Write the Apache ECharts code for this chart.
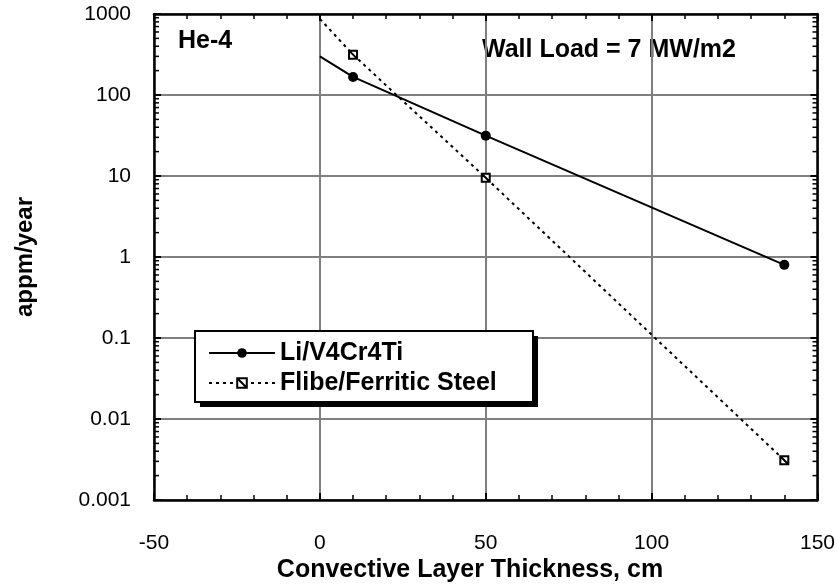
<!DOCTYPE html>
<html>
<head>
<meta charset="utf-8">
<script src="https://cdn.jsdelivr.net/npm/echarts@6/dist/echarts.min.js"></script>
<style>
html,body{margin:0;padding:0;background:#fff;}
#c{width:838px;height:585px;}
</style>
</head>
<body>
<div id="c"></div>
<script>
// ---- data ----
const xTicks = [-50, 0, 50, 100, 150];
const yTickLabels = ['0.001', '0.01', '0.1', '1', '10', '100', '1000'];
const yTickValues = [0.001, 0.01, 0.1, 1, 10, 100, 1000];
const minorMultipliers = [2, 3, 4, 5, 6, 7, 8, 9];

const liName = 'Li/V4Cr4Ti';
const liX = [0, 10, 50, 140];
const liY = [300, 167, 31.5, 0.8];
const liMarker = [false, true, true, true];

const fbName = 'Flibe/Ferritic Steel';
const fbX = [0, 10, 50, 140];
const fbY = [870, 315, 9.5, 0.0031];
const fbMarker = [false, true, true, true];

const noteLeft = 'He-4';
const noteRight = 'Wall Load = 7 MW/m2';
const xTitle = 'Convective Layer Thickness, cm';
const yTitle = 'appm/year';

// ---- build ----
function build(xs, ys, marks) {
  return xs.map((x, i) => marks[i] ? [x, ys[i]] : { value: [x, ys[i]], symbol: 'none' });
}
const minorVals = [];
yTickValues.slice(0, -1).forEach(d => minorMultipliers.forEach(m => minorVals.push(d * m)));

const font = 'Liberation Sans, Arial, Helvetica, sans-serif';
const squareSym = 'path://M0 0H10V10H0Z M0 0L10 10';

const axisLineStyle = { show: true, onZero: false, lineStyle: { color: '#000', width: 2.5 } };
const majorTick = { show: true, inside: true, length: 7, lineStyle: { color: '#000', width: 2 } };
const minorTick = { show: true, splitNumber: 5, length: 5, lineStyle: { color: '#000', width: 1.5 } };
const gridLine = { show: true, lineStyle: { color: '#7f7f7f', width: 2 } };

const chart = echarts.init(document.getElementById('c'), null, { renderer: 'canvas' });
chart.setOption({
  animation: false,
  backgroundColor: '#fff',
  grid: { left: 154, top: 14, right: 19, bottom: 85, containLabel: false },
  xAxis: [{
    type: 'value', min: xTicks[0], max: xTicks[xTicks.length - 1], interval: 50,
    position: 'bottom',
    axisLine: axisLineStyle, axisTick: majorTick, minorTick: minorTick,
    axisLabel: { color: '#000', fontFamily: font, fontSize: 21, margin: 33,
      formatter: v => String(v) },
    splitLine: gridLine
  }, {
    type: 'value', min: xTicks[0], max: xTicks[xTicks.length - 1], interval: 50,
    position: 'top',
    axisLine: axisLineStyle, axisTick: majorTick, minorTick: minorTick,
    axisLabel: { show: false },
    splitLine: { show: false }
  }],
  yAxis: [{
    type: 'log', logBase: 10, min: yTickValues[0], max: yTickValues[yTickValues.length - 1],
    position: 'left',
    axisLine: axisLineStyle, axisTick: majorTick,
    axisLabel: { color: '#000', fontFamily: font, fontSize: 21, margin: 23,
      formatter: v => {
        const i = yTickValues.findIndex(t => Math.abs(Math.log10(t) - Math.log10(v)) < 1e-6);
        return i >= 0 ? yTickLabels[i] : '';
      } },
    splitLine: gridLine
  }, {
    type: 'log', logBase: 10, min: yTickValues[0], max: yTickValues[yTickValues.length - 1],
    position: 'right',
    axisLine: axisLineStyle, axisTick: majorTick,
    axisLabel: { show: false },
    splitLine: { show: false }
  }],
  legend: {
    show: true, orient: 'vertical', left: 195, top: 331, z: 20,
    padding: [7, 40, 4, 13], itemGap: 0, itemWidth: 66, itemHeight: 12,
    selectedMode: false,
    textStyle: { color: '#000', fontFamily: font, fontSize: 25, fontWeight: 'bold', lineHeight: 30 },
    data: [liName, fbName]
  },
  graphic: [
    { type: 'rect', z: 10, shape: { x: 200, y: 336, width: 338, height: 71 }, style: { fill: '#000' } },
    { type: 'rect', z: 11, shape: { x: 195, y: 331, width: 338, height: 71 }, style: { fill: '#fff', stroke: '#000', lineWidth: 2 } },
    { type: 'text', left: 178, top: 29, style: { text: noteLeft, fill: '#000', font: 'bold 25px ' + font } },
    { type: 'text', left: 482, top: 38, style: { text: noteRight, fill: '#000', font: 'bold 25px ' + font } },
    { type: 'text', x: 470, y: 570, style: { text: xTitle, fill: '#000', font: 'bold 25px ' + font, align: 'center', verticalAlign: 'middle' } },
    { type: 'text', x: 25, y: 257, rotation: Math.PI / 2, style: { text: yTitle, fill: '#000', font: 'bold 24px ' + font, align: 'center', verticalAlign: 'middle' } }
  ],
  series: [
    {
      name: liName, type: 'line', data: build(liX, liY, liMarker),
      symbol: 'circle', symbolSize: 10, showAllSymbol: true,
      lineStyle: { color: '#000', width: 2 },
      itemStyle: { color: '#000' },
      z: 5
    },
    {
      name: fbName, type: 'line', data: build(fbX, fbY, fbMarker),
      symbol: squareSym, symbolSize: 8, showAllSymbol: true,
      lineStyle: { color: '#000', width: 2, type: [3, 4] },
      itemStyle: { color: '#fff', borderColor: '#000', borderWidth: 2 },
      z: 5
    },
    {
      type: 'custom', silent: true, clip: false, z: 4,
      data: minorVals.map(v => [xTicks[0], v]),
      encode: { x: 0, y: 1 },
      renderItem: (params, api) => {
        const v = api.value(1);
        const l = api.coord([xTicks[0], v]);
        const r = api.coord([xTicks[xTicks.length - 1], v]);
        const st = { stroke: '#000', lineWidth: 1.5 };
        return { type: 'group', children: [
          { type: 'line', shape: { x1: l[0], y1: l[1], x2: l[0] + 5, y2: l[1] }, style: st },
          { type: 'line', shape: { x1: r[0], y1: r[1], x2: r[0] - 5, y2: r[1] }, style: st }
        ] };
      }
    }
  ]
});
</script>
</body>
</html>
